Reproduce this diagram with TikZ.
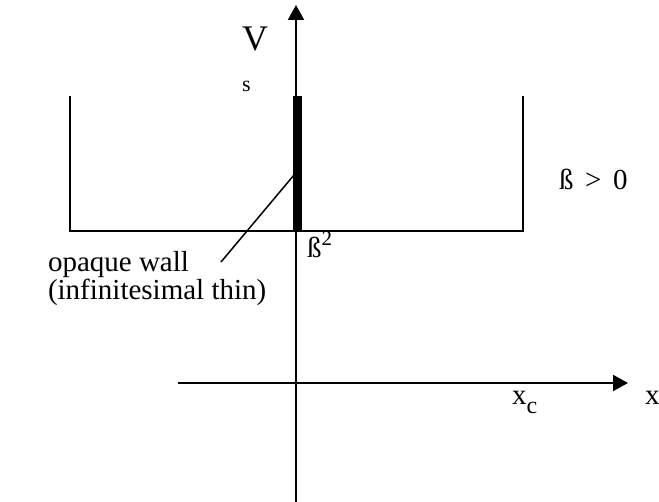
\documentclass[tikz,border=0pt]{standalone}
\usepackage{fontspec}
\setmainfont{Liberation Serif}
\usetikzlibrary{arrows.meta,positioning}

\begin{document}
\begin{tikzpicture}[x=1pt,y=-1pt,line width=2pt,
  lbl/.style={inner sep=0pt,anchor=base west,font=\fontsize{29}{31}\selectfont},
  axis/.style={-{Triangle[length=15pt,width=16pt]}}]
\useasboundingbox (0,0) rectangle (659,502);
% axes
\coordinate (xl) at (178,383);
\coordinate (xr) at (628,383);
\coordinate (vb) at (296,502);
\coordinate (vt) at (296,5);
\draw[axis] (xl) -- (xr);
\draw[axis] (vb) -- (vt);
% potential box
\coordinate (tl) at (70,96);
\coordinate (bl) at (70,231);
\coordinate (br) at (523,231);
\coordinate (tr) at (523,96);
\draw (tl) -- (bl) -- (br) -- (tr);
% the wall
\node[fill,inner sep=0pt,minimum width=9pt,minimum height=135pt] (wall) at (297.5,163.5) {};
% labels
\node[lbl,font=\fontsize{36}{36}\selectfont] (V) at (241,51) {V};
\node[lbl,font=\fontsize{22}{22}\selectfont] (s) at (241,92) {s};
\node[lbl] (beta) at (558,190) {ß\hspace{.4em}>\hspace{.4em}0};
\node[lbl] (beta2) at (306,258) {ß\raisebox{.42em}{\fontsize{21}{21}\selectfont 2}};
\node[lbl] (op) at (47,272) {opaque wall};
\node[lbl] (inf) at ([yshift=-28pt]op.base west) {(infinitesimal thin)};
\node[lbl] (xc) at (511,405) {x\raisebox{-.3em}{\fontsize{24}{24}\selectfont c}};
\node[lbl] (x) at (644,405) {x};
% pointer to the wall
\coordinate (tip) at (294,175);
\coordinate (foot) at (221,262);
\draw[line width=1.5pt] (foot) -- (tip);
\end{tikzpicture}
\end{document}
